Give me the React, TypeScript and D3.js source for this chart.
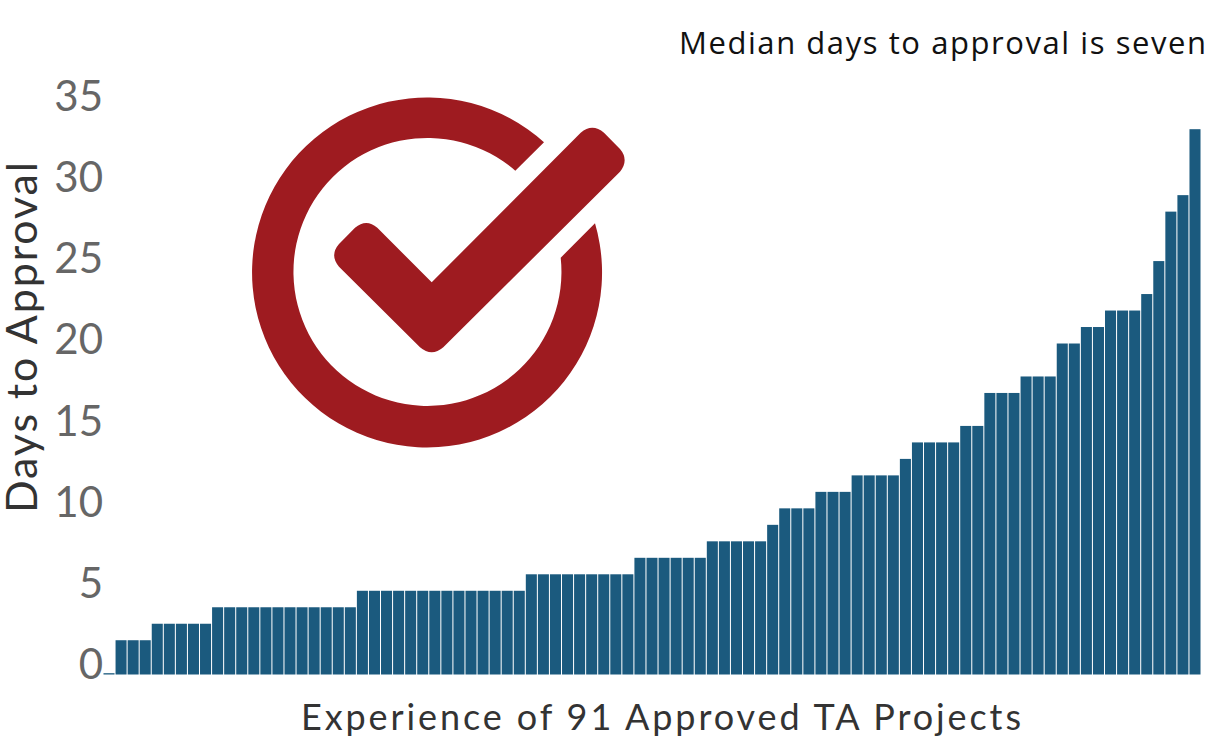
import React from "react";
import * as d3 from "d3";

const dayValues: number[] = [
  0,
  2, 2, 2,
  3, 3, 3, 3, 3,
  4, 4, 4, 4, 4, 4, 4, 4, 4, 4, 4, 4,
  5, 5, 5, 5, 5, 5, 5, 5, 5, 5, 5, 5, 5, 5,
  6, 6, 6, 6, 6, 6, 6, 6, 6,
  7, 7, 7, 7, 7, 7,
  8, 8, 8, 8, 8,
  9,
  10, 10, 10,
  11, 11, 11,
  12, 12, 12, 12,
  13,
  14, 14, 14, 14,
  15, 15,
  17, 17, 17,
  18, 18, 18,
  20, 20,
  21, 21,
  22, 22, 22,
  23,
  25,
  28,
  29,
  33,
];
const tickValues: number[] = [0, 5, 10, 15, 20, 25, 30, 35];
const titleText = "Median days to approval is seven";
const xLabel = "Experience of 91 Approved TA Projects";
const yLabel = "Days to Approval";

const FONT = "'Open Sans', sans-serif";
const LABEL_FONT = "Lato, 'Open Sans', sans-serif";
const BAR = "#1b5a7e";
const RED = "#9e1b20";

// logo geometry in zoomed-crop units
const zx = (x: number) => 240 + x / 3;
const zy = (y: number) => 90 + y / 3;
const P = (x: number, y: number) => `${zx(x).toFixed(1)} ${zy(y).toFixed(1)}`;

const ringPath = [
  `M ${P(912, 157)}`,
  `A 175 175 0 1 0 ${P(1065, 400)}`,
  `L ${P(962, 503)}`,
  `A 134 134 0 1 1 ${P(826, 242)}`,
  "Z",
].join(" ");

const checkPath = [
  `M ${P(575, 577)}`,
  `L ${P(1022, 128)}`,
  `Q ${P(1057, 98)} ${P(1092, 128)}`,
  `L ${P(1140, 177)}`,
  `Q ${P(1168, 210)} ${P(1140, 245)}`,
  `L ${P(610, 772)}`,
  `Q ${P(575, 802)} ${P(540, 772)}`,
  `L ${P(297, 530)}`,
  `Q ${P(268, 496)} ${P(297, 462)}`,
  `L ${P(345, 413)}`,
  `Q ${P(379, 385)} ${P(412, 413)}`,
  "Z",
].join(" ");

export default function App() {
  const x = d3
    .scaleBand<number>()
    .domain(dayValues.map((_, i) => i))
    .range([103, 1201])
    .paddingInner(0.085)
    .paddingOuter(0.04);
  const y = d3.scaleLinear().domain([0, 33]).range([673.2, 129.2]);
  // tick labels sit on their own slightly tighter spacing in the reference
  const yLabelPos = d3.scaleLinear().domain([0, 35]).range([679, 111]);
  const baseline = 674.5;

  return (
    <svg
      width={1210}
      height={741}
      viewBox="0 0 1210 741"
      style={{ position: "fixed", left: 0, top: 0, background: "#fff" }}
    >
      <g>
        {dayValues.map((v, i) => (
          <rect
            key={i}
            x={x(i)}
            y={y(v)}
            width={x.bandwidth()}
            height={baseline - y(v)}
            fill={BAR}
          />
        ))}
      </g>
      <g fontFamily={LABEL_FONT} fontSize={42} fill="#666666" textAnchor="end">
        {tickValues.map((t) => (
          <text key={t} x={103} y={yLabelPos(t)}>
            {t}
          </text>
        ))}
      </g>
      <text
        transform="translate(37,513) rotate(-90)"
        fontFamily={LABEL_FONT}
        fontSize={43}
        fill="#333333"
        textLength={351}
        lengthAdjust="spacing"
      >
        {yLabel}
      </text>
      <text
        x={301}
        y={730}
        fontFamily={LABEL_FONT}
        fontSize={36}
        fill="#333333"
        textLength={720}
        lengthAdjust="spacing"
      >
        {xLabel}
      </text>
      <text
        x={679}
        y={54}
        fontFamily={FONT}
        fontSize={31}
        fill="#111111"
        textLength={527}
        lengthAdjust="spacing"
      >
        {titleText}
      </text>
      <path d={ringPath} fill={RED} />
      <path d={checkPath} fill={RED} />
    </svg>
  );
}
